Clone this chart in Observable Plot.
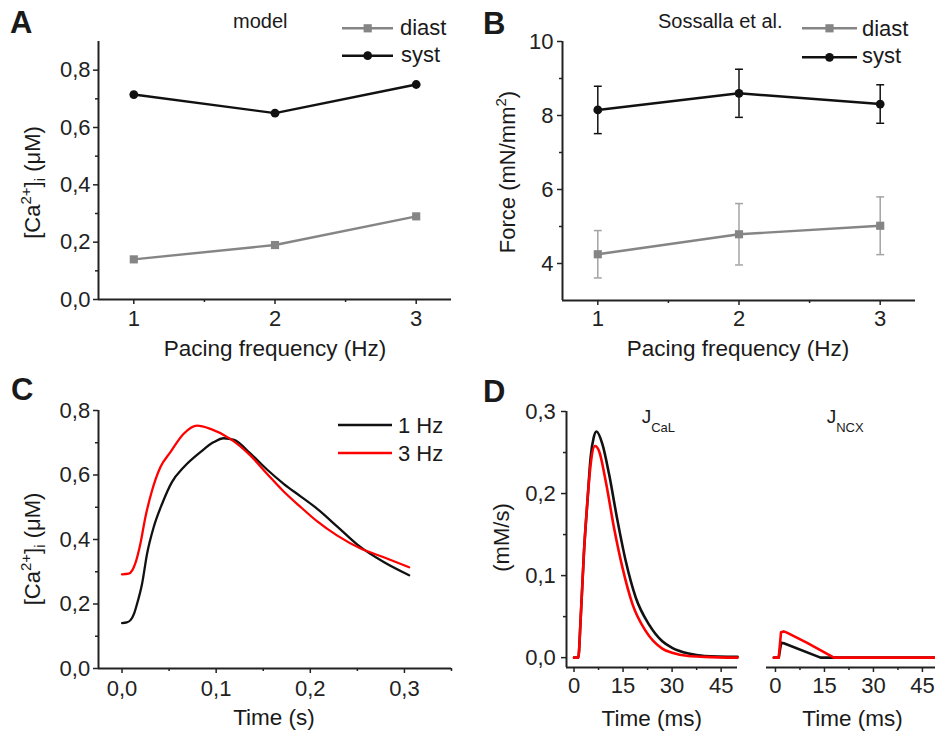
<!DOCTYPE html>
<html><head><meta charset="utf-8">
<script src="https://cdn.jsdelivr.net/npm/d3@7"></script>
<script src="https://cdn.jsdelivr.net/npm/@observablehq/plot@0.6"></script>
<style>
body{margin:0;background:#fff}
#fig{position:relative;width:935px;height:731px;overflow:hidden;background:#fff;font-family:"Liberation Sans",Arial,sans-serif;color:#1a1a1a}
.panel{position:absolute}
#overlay{position:absolute;left:0;top:0;pointer-events:none;font-family:"Liberation Sans",Arial,sans-serif;fill:#1a1a1a}
#overlay .lab{font-weight:bold;font-size:31px}
</style></head><body><div id="fig"></div>
<script>
// ---------- data ----------
const freqHz = [1, 2, 3];
// Panel A (model, [Ca2+]i in µM)
const modelDiast = [0.14, 0.19, 0.29];
const modelSyst  = [0.715, 0.65, 0.75];
// Panel B (Sossalla et al., force mN/mm²)
const forceDiast    = [4.25, 4.79, 5.02];
const forceDiastErr = [0.64, 0.83, 0.78];
const forceSyst     = [8.15, 8.6, 8.31];
const forceSystErr  = [0.64, 0.65, 0.52];
// Panel C (Ca transients, time in s)
const caTime1Hz = [0, 0.005, 0.009, 0.013, 0.016, 0.0213, 0.0266, 0.0336, 0.0426, 0.053, 0.0655, 0.0833, 0.0975, 0.108, 0.119, 0.1365, 0.154, 0.172, 0.19, 0.2074, 0.2287, 0.25, 0.278, 0.305];
const ca1Hz     = [0.141, 0.143, 0.150, 0.172, 0.201, 0.263, 0.356, 0.438, 0.511, 0.578, 0.624, 0.671, 0.702, 0.714, 0.709, 0.666, 0.617, 0.572, 0.533, 0.495, 0.440, 0.384, 0.330, 0.289];
const caTime3Hz = [0, 0.007, 0.011, 0.014, 0.0195, 0.0248, 0.0319, 0.0407, 0.0514, 0.0655, 0.0798, 0.094, 0.115, 0.1365, 0.154, 0.172, 0.19, 0.2074, 0.2287, 0.2535, 0.278, 0.305];
const ca3Hz     = [0.292, 0.294, 0.305, 0.325, 0.387, 0.469, 0.552, 0.624, 0.671, 0.728, 0.753, 0.743, 0.712, 0.660, 0.604, 0.548, 0.500, 0.456, 0.412, 0.372, 0.345, 0.314];
// Panel D (fluxes, time in ms, mM/s)
const jcalTime1Hz = [0, 1.3, 2.05, 3.06, 4.1, 5.1, 6.0, 6.85, 8.7, 10.7, 13.3, 15.8, 18.9, 23, 27, 30, 35, 40, 50];
const jcal1Hz     = [0, 0, 0.049, 0.13, 0.19, 0.245, 0.268, 0.2756, 0.26, 0.224, 0.167, 0.118, 0.073, 0.040, 0.020, 0.012, 0.005, 0.002, 0.001];
const jcalTime3Hz = [0, 1.3, 2.05, 3.06, 4.1, 5.1, 6.4, 7.65, 9.7, 12.2, 14.8, 17.9, 21.9, 27, 30, 35, 40, 50];
const jcal3Hz     = [0, 0, 0.049, 0.13, 0.191, 0.236, 0.258, 0.252, 0.215, 0.159, 0.11, 0.065, 0.0326, 0.011, 0.006, 0.002, 0.001, 0];
const jncxTime1Hz = [-0.5, 1.0, 1.75, 2.55, 13.8, 49];
const jncx1Hz     = [0, 0, 0.0183, 0.0175, 0, 0];
const jncxTime3Hz = [-0.5, 1.0, 1.7, 2.5, 3.5, 9.7, 17.9, 49];
const jncx3Hz     = [0, 0, 0.031, 0.032, 0.0305, 0.018, 0, 0];

// tick labels
const ticksA_x = [1, 2, 3], minorA_x = [1.5, 2.5];
const ticksA_y = [0, 0.2, 0.4, 0.6, 0.8], minorA_y = [0.1, 0.3, 0.5, 0.7];
const ticksB_y = [4, 6, 8, 10], minorB_y = [5, 7, 9];
const ticksC_x = [0, 0.1, 0.2, 0.3], minorC_x = [0.05, 0.15, 0.25, 0.35];
const ticksC_y = [0, 0.2, 0.4, 0.6, 0.8], minorC_y = [0.1, 0.3, 0.5, 0.7];
const ticksD_x = [0, 15, 30, 45], minorD_x = [7.5, 22.5, 37.5];
const ticksD_y = [0, 0.1, 0.2, 0.3], minorD_y = [0.05, 0.15, 0.25];

const rows = (xs, ys) => xs.map((x, i) => ({x, y: ys[i]}));
const comma = d => d3.format(".1f")(d).replace(".", ",");
const intf = d => String(d);

const GRAY = "#858585", GRAYERR = "#a3a3a3", BLACK = "#111", RED = "#ff0000", AXIS = "#222";
const fig = document.getElementById("fig");

function panel(o) {
  const marks = [];
  if (o.yAxis !== false) {
    marks.push(Plot.axisY({ticks: o.yTicks, tickSize: 5, tickPadding: o.yPad, tickFormat: o.yFmt, fontSize: 22, label: null, strokeWidth: 1.5}));
    marks.push(Plot.axisY({ticks: o.yMinor, tickSize: 3, tickFormat: () => "", label: null, strokeWidth: 1.5}));
    marks.push(Plot.ruleX([o.x[0]], {stroke: AXIS, strokeWidth: 2}));
  }
  marks.push(Plot.axisX({ticks: o.xTicks, tickSize: 5, tickPadding: o.xPad, tickFormat: o.xFmt, fontSize: 22, label: null, strokeWidth: 1.5}));
  marks.push(Plot.axisX({ticks: o.xMinor, tickSize: 3, tickFormat: () => "", label: null, strokeWidth: 1.5}));
  marks.push(Plot.ruleY([o.y[0]], {stroke: AXIS, strokeWidth: 2}));
  marks.push(...o.marks);
  const svg = Plot.plot({
    width: o.w, height: o.h,
    marginTop: o.m[0], marginRight: o.m[1], marginBottom: o.m[2], marginLeft: o.m[3],
    x: {domain: o.x},
    y: o.yAxis === false ? {domain: o.y, axis: null} : {domain: o.y},
    style: {fontFamily: "'Liberation Sans', Arial, sans-serif", fontSize: "22px", color: AXIS, background: "transparent", overflow: "visible"},
    marks
  });
  const div = document.createElement("div");
  div.className = "panel";
  div.style.left = o.left + "px"; div.style.top = o.top + "px";
  div.style.width = o.w + "px"; div.style.height = o.h + "px";
  div.appendChild(svg);
  fig.appendChild(div);
}

// Panel A
const aDiast = rows(freqHz, modelDiast), aSyst = rows(freqHz, modelSyst);
panel({left: 0, top: 0, w: 470, h: 370, m: [41, 19, 71, 98], x: [0.75, 3.25], y: [0, 0.9],
  xTicks: ticksA_x, xMinor: minorA_x, xFmt: intf, xPad: 6,
  yTicks: ticksA_y, yMinor: minorA_y, yFmt: comma, yPad: 3,
  marks: [
    Plot.line(aDiast, {x: "x", y: "y", stroke: GRAY, strokeWidth: 2.4}),
    Plot.dot(aDiast, {x: "x", y: "y", symbol: "square", r: 4.6, fill: GRAY}),
    Plot.line(aSyst, {x: "x", y: "y", stroke: BLACK, strokeWidth: 2.4}),
    Plot.dot(aSyst, {x: "x", y: "y", r: 4.4, fill: BLACK})
  ]});

// Panel B
const bDiast = freqHz.map((f, i) => ({x: f, y: forceDiast[i], lo: forceDiast[i] - forceDiastErr[i], hi: forceDiast[i] + forceDiastErr[i]}));
const bSyst = freqHz.map((f, i) => ({x: f, y: forceSyst[i], lo: forceSyst[i] - forceSystErr[i], hi: forceSyst[i] + forceSystErr[i]}));
const cap = 0.028;
function errMarks(data, color) {
  return [
    Plot.ruleX(data, {x: "x", y1: "lo", y2: "hi", stroke: color, strokeWidth: 1.5}),
    Plot.link(data, {x1: d => d.x - cap, x2: d => d.x + cap, y1: "hi", y2: "hi", stroke: color, strokeWidth: 1.5}),
    Plot.link(data, {x1: d => d.x - cap, x2: d => d.x + cap, y1: "lo", y2: "lo", stroke: color, strokeWidth: 1.5})
  ];
}
panel({left: 470, top: 0, w: 465, h: 370, m: [41, 20, 70, 92], x: [0.75, 3.25], y: [3, 10],
  xTicks: ticksA_x, xMinor: minorA_x, xFmt: intf, xPad: 5,
  yTicks: ticksB_y, yMinor: minorB_y, yFmt: intf, yPad: 4,
  marks: [
    ...errMarks(bDiast, GRAYERR),
    ...errMarks(bSyst, BLACK),
    Plot.line(bDiast, {x: "x", y: "y", stroke: GRAY, strokeWidth: 2.4}),
    Plot.dot(bDiast, {x: "x", y: "y", symbol: "square", r: 4.6, fill: GRAY}),
    Plot.line(bSyst, {x: "x", y: "y", stroke: BLACK, strokeWidth: 2.4}),
    Plot.dot(bSyst, {x: "x", y: "y", r: 4.4, fill: BLACK})
  ]});

// Panel C
panel({left: 0, top: 370, w: 470, h: 361, m: [40, 19, 63, 98], x: [-0.025, 0.35], y: [0, 0.8],
  xTicks: ticksC_x, xMinor: minorC_x, xFmt: comma, xPad: 6.5,
  yTicks: ticksC_y, yMinor: minorC_y, yFmt: comma, yPad: 3.3,
  marks: [
    Plot.line(rows(caTime1Hz, ca1Hz), {x: "x", y: "y", stroke: BLACK, strokeWidth: 2.3, curve: "monotone-x"}),
    Plot.line(rows(caTime3Hz, ca3Hz), {x: "x", y: "y", stroke: RED, strokeWidth: 2.3, curve: "monotone-x"})
  ]});

// Panel D left (J_CaL)
panel({left: 470, top: 370, w: 280, h: 361, m: [41, 13, 64, 96], x: [-2.3, 50], y: [-0.012, 0.3],
  xTicks: ticksD_x, xMinor: minorD_x, xFmt: intf, xPad: 5,
  yTicks: ticksD_y, yMinor: minorD_y, yFmt: comma, yPad: 5.7,
  marks: [
    Plot.line(rows(jcalTime1Hz, jcal1Hz), {x: "x", y: "y", stroke: BLACK, strokeWidth: 2.6, curve: "monotone-x"}),
    Plot.line(rows(jcalTime3Hz, jcal3Hz), {x: "x", y: "y", stroke: RED, strokeWidth: 2.6, curve: "monotone-x"})
  ]});

// Panel D right (J_NCX)
panel({left: 750, top: 370, w: 185, h: 361, m: [41, 0, 64, 16], x: [-2.75, 49], y: [-0.012, 0.3],
  yAxis: false,
  xTicks: ticksD_x, xMinor: minorD_x, xFmt: intf, xPad: 5,
  marks: [
    Plot.line(rows(jncxTime1Hz, jncx1Hz), {x: "x", y: "y", stroke: BLACK, strokeWidth: 2.6}),
    Plot.line(rows(jncxTime3Hz, jncx3Hz), {x: "x", y: "y", stroke: RED, strokeWidth: 2.6})
  ]});

// ---------- overlay: panel letters, titles, legends, axis titles ----------
const overlay = `
<svg id="overlay" width="935" height="731" xmlns="http://www.w3.org/2000/svg">
  <text class="lab" x="10" y="33">A</text>
  <text class="lab" x="483" y="33.5">B</text>
  <text class="lab" x="11" y="400">C</text>
  <text class="lab" x="483" y="401.5">D</text>

  <text x="233" y="28" font-size="20">model</text>
  <text x="658" y="28" font-size="20">Sossalla et al.</text>

  <line x1="342" x2="393" y1="28.3" y2="28.3" stroke="${GRAY}" stroke-width="2.4"/>
  <rect x="363.6" y="24.2" width="8.2" height="8.2" fill="${GRAY}"/>
  <text x="400" y="35" font-size="22">diast</text>
  <line x1="342" x2="393" y1="55.7" y2="55.7" stroke="${BLACK}" stroke-width="2.4"/>
  <circle cx="367.7" cy="55.7" r="4.4" fill="${BLACK}"/>
  <text x="401" y="62" font-size="22">syst</text>

  <line x1="802" x2="857" y1="28.3" y2="28.3" stroke="${GRAY}" stroke-width="2.4"/>
  <rect x="825.4" y="24.2" width="8.2" height="8.2" fill="${GRAY}"/>
  <text x="862" y="36" font-size="22">diast</text>
  <line x1="802" x2="857" y1="57.3" y2="57.3" stroke="${BLACK}" stroke-width="2.4"/>
  <circle cx="829.5" cy="57.3" r="4.4" fill="${BLACK}"/>
  <text x="862" y="63" font-size="22">syst</text>

  <line x1="338" x2="392" y1="425" y2="425" stroke="${BLACK}" stroke-width="2.4"/>
  <text x="398" y="433" font-size="22">1 Hz</text>
  <line x1="338" x2="392" y1="453" y2="453" stroke="${RED}" stroke-width="2.4"/>
  <text x="398" y="461" font-size="22">3 Hz</text>

  <text x="641.7" y="423.3" font-size="19">J<tspan font-size="13" dy="8.7">CaL</tspan></text>
  <text x="826.7" y="423.3" font-size="19">J<tspan font-size="13" dy="8.7">NCX</tspan></text>

  <text x="275" y="356" font-size="22.5" text-anchor="middle">Pacing frequency (Hz)</text>
  <text x="738" y="356" font-size="22.5" text-anchor="middle">Pacing frequency (Hz)</text>
  <text x="274" y="725" font-size="22.5" text-anchor="middle">Time (s)</text>
  <text x="651.7" y="726" font-size="22.5" text-anchor="middle">Time (ms)</text>
  <text x="852.5" y="726" font-size="22.5" text-anchor="middle">Time (ms)</text>

  <text transform="translate(40,182.5) rotate(-90)" font-size="22" text-anchor="middle">[Ca<tspan font-size="15" dy="-9">2+</tspan><tspan dy="9">]</tspan><tspan font-size="15" dy="5">i</tspan><tspan dy="-5"> (μM)</tspan></text>
  <text transform="translate(40,549) rotate(-90)" font-size="22" text-anchor="middle">[Ca<tspan font-size="15" dy="-9">2+</tspan><tspan dy="9">]</tspan><tspan font-size="15" dy="5">i</tspan><tspan dy="-5"> (μM)</tspan></text>
  <text transform="translate(515,172) rotate(-90)" font-size="22" text-anchor="middle">Force (mN/mm<tspan font-size="15" dy="-9">2</tspan><tspan dy="9">)</tspan></text>
  <text transform="translate(508.5,537.5) rotate(-90)" font-size="22" text-anchor="middle">(mM/s)</text>
</svg>`;
fig.insertAdjacentHTML("beforeend", overlay);
</script></body></html>
